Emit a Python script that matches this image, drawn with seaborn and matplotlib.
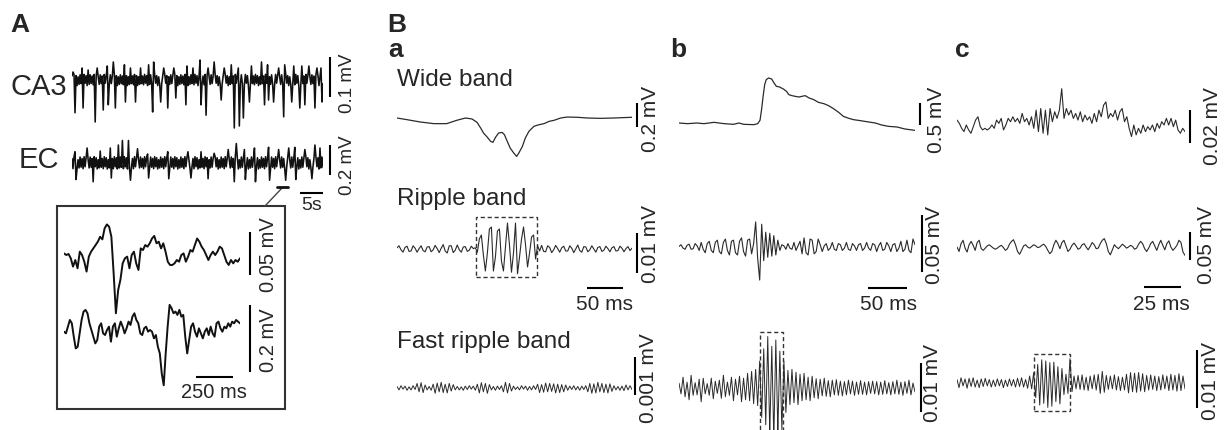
import numpy as np
import pandas as pd
import seaborn as sns
import matplotlib.pyplot as plt
from matplotlib.patches import Rectangle
from matplotlib.lines import Line2D


# ---------- values ----------
# A: CA3 / EC field potentials, uV, ~55 s
ca3_uv = [10, 20, 14, -82, 11, -14, 8, -11, 13, -9,
          30, -70, 14, -8, 11, -14, 25, -11, 13, -9,
          10, -12, 14, -105, 11, 30, 8, -11, 13, -9,
          10, -75, 14, -8, 11, 35, -62, -11, 13, -9,
          10, 45, 14, -70, 11, -14, 8, -11, 13, -9,
          10, -12, 38, -55, 11, -14, 8, -11, 30, -9,
          10, -12, 14, -55, 11, -14, 8, -11, 30, -9,
          10, -12, 14, -8, 11, -14, 38, -11, 13, -9,
          -80, 45, 14, -8, 11, -14, 8, -11, -55, -9,
          10, 30, 14, -8, 11, -70, 8, -11, 13, -9,
          10, 30, 14, -45, 11, -14, 8, -11, 13, -9,
          10, -12, 14, -62, 35, -14, 8, -11, 13, -9,
          30, -12, 14, -8, 11, -14, 8, 50, -62, -9,
          10, -12, 14, -88, 11, 30, 8, -11, 13, -9,
          10, 45, 14, -8, 11, -14, 8, -11, -50, -9,
          10, 30, 14, -8, 11, -14, 8, -11, 38, -9,
          10, -120, 14, -8, 11, 30, -115, -11, 13, -9,
          -95, -12, 14, -8, 11, -14, -55, -11, 35, -9,
          10, -12, 14, -8, 11, -14, 8, -11, 45, -9,
          10, -62, 14, -8, 38, -50, 8, -11, 13, -9,
          -55, -12, 14, -8, 11, 30, 8, -11, 13, -9,
          -92, 38, 14, -8, 11, -14, 8, -11, -55, -9,
          35, -12, 14, -8, 11, -14, -70, -11, 35, -9,
          10, -62, 14, -8, 11, 35, 8, -11, 13, -9,
          10, -70, 14, 30, 11, -14, 8, 30, -55, -9]
ec_uv = [30, -38, 42, 75, -110, -40, 22, -33, 40, -28,
         30, -38, 42, -25, 35, 100, 22, -33, 40, -28,
         30, -125, 42, -25, 35, -40, 22, -33, 80, -28,
         30, -38, 42, -25, 35, -40, 22, -33, 100, -100,
         30, -38, 42, -25, 35, -40, 120, -33, 40, -28,
         150, -38, 42, -25, 35, -40, 150, -33, -115, -28,
         30, -38, 42, -25, 35, 95, 22, -33, 40, -28,
         30, -38, 42, -25, 35, 60, -100, -33, 40, -28,
         30, -38, 42, -25, 35, -40, 22, -33, 40, -28,
         30, -38, 42, -25, 35, 75, -105, -33, 40, -28,
         30, -38, 42, -25, 35, -40, 22, -33, 40, -28,
         30, -38, 42, -25, 35, 75, 22, -33, -100, -28,
         30, -38, 42, -25, 35, -40, 22, -33, 75, -28,
         30, -38, 42, -25, 35, -105, 22, -33, 40, -28,
         30, 65, 42, -25, 35, -40, 22, -33, 40, -28,
         30, -38, 42, -25, 35, 90, 22, -33, 40, -28,
         30, -125, 42, 130, 35, -40, 22, -33, 40, -28,
         30, 90, -110, -25, 35, -40, 22, -33, 40, -28,
         30, 100, -125, -25, 35, -40, 22, -33, 40, -28,
         30, -38, 42, -25, 35, 105, -115, -33, 40, -28,
         30, -38, 42, -25, 35, 90, 22, -33, 40, -28,
         30, -38, -115, -25, 35, 100, 22, -33, 40, -28,
         30, 105, -110, -25, 35, -40, 22, -33, 40, -28,
         30, 90, 42, -25, 35, -40, 22, -33, -105, -28,
         30, 120, 42, -25, 35, -40, 100, -33, 40, -28]
long_s = 54.6

# A inset, uV, ~1.19 s
inset_top_uv = [7.7, 5.8, 7.0, 2.0, -7.7, 0.0, -9.7, 9.7, 5.8, -2.0,
                -13.5, 3.9, 9.7, 13.5, 17.4, 21.3, 27.0, 24.0, 36.8, 41.4,
                38.7, 27.0, -15.5, -62.0, -35.0, -23.0, -3.9, 2.0, 3.9, -9.7,
                5.8, 9.7, -3.9, -11.6, 13.5, 11.6, 17.4, 15.5, 19.4, 25.0,
                28.0, 19.4, 21.3, 13.5, 19.4, 9.7, -2.0, -5.8, -5.8, -3.9,
                0.0, -2.0, 5.8, 7.7, -2.0, 3.9, 11.6, 9.7, 17.4, 25.0,
                21.3, 15.5, 11.6, 5.8, 0.0, 5.8, 9.7, 5.8, 9.7, 15.5,
                13.5, 5.8, -2.0, -5.8, 0.0, -3.9, 0.0, -2.0, 2.0]
inset_bot_uv = [-5, -10, 10, 30, 20, -20, -55, -50, -10, 30,
                55, 60, 50, 20, 0, -20, -40, -30, 10, 20,
                -10, -15, 0, 10, -35, 10, 20, -20, 5, 25,
                10, -10, 5, 25, 15, 40, 50, 30, 20, -10,
                -15, 5, 10, -5, 0, -5, -25, -15, -50, -70,
                -130, -165, -70, 10, 75, 65, 50, 55, 45, 60,
                40, 45, -20, -70, -30, 10, 20, -5, -20, 5,
                -10, -25, -5, 5, -15, 10, -10, -20, 20, 25,
                5, -5, 10, 5, 20, 10, 25, 20, 30, 25, 20]
inset_ms = 1190

# B: duration of each column (ms)
dur_a, dur_b, dur_c = 326, 303, 154

# wide band
wide_a_ms = [0, 14, 32, 51, 69, 83, 95, 104, 111, 116, 120, 125, 130, 133, 137, 141,
             146, 149, 153, 157, 162, 166, 169, 174, 178, 183, 190, 197, 204, 211, 218,
             227, 236, 250, 264, 282, 301, 326]
wide_a_uv = [0, -14, -33, -47, -47, -19, 0, -8, -36, -83, -125, -158, -195, -203, -158, -125,
             -120, -139, -195, -250, -292, -320, -292, -236, -167, -111, -69, -56, -47, -28, -19,
             0, 8, 6, 0, -3, 0, 6]
wide_b_ms = [0, 11, 23, 32, 45, 58, 70, 77, 83, 96, 101, 104, 106, 108, 110, 112, 115, 119,
             122, 125, 129, 134, 138, 141, 145, 149, 154, 158, 162, 167, 173, 179, 186, 192,
             199, 205, 211, 218, 224, 233, 241, 252, 260, 269, 280, 290, 303]
wide_b_uv = [0, -15, 0, -15, 15, -15, -30, 0, -30, -38, -15, 61, 303, 606, 871, 984, 1022, 999,
             908, 833, 818, 772, 719, 643, 621, 606, 590, 606, 621, 568, 530, 469, 439, 394,
             318, 242, 151, 106, 76, 53, 30, 0, -45, -76, -91, -136, -167]
wide_c_uv = [3, 1, -2, -4, 0, -3, -5, -1, 3, 5, -1, -3, -2, -3, -2, 0, -2, 3, 1, 4,
             -3, 0, 4, 2, 5, 2, 4, 1, 7, 2, 4, 0, 5, -2, 9, -4, 10, -5, 9, -6,
             10, 2, 8, 4, 9, 22, 4, 10, 6, 9, 4, 7, 3, 8, 2, 6, 3, 5, 1, 7,
             2, 9, 5, 12, 14, 4, 7, 5, 9, 3, 8, 10, 2, 5, -2, -7, 0, -6, -2, -5,
             0, -4, -1, -3, 0, -4, 1, -2, 2, 0, 4, 0, 4, -1, 3, -3, -5, -2, -4]

# ripple band
ripple_a_uv = [0.3, 0.8, -0.2, -0.8, 0.4, 0.7, -0.6, -0.5, 0.8, 0.2,
               -0.8, 0.1, 0.8, -0.4, -0.7, 0.5, 0.6, -0.7, -0.2, 0.9,
               0.1, -0.9, 0.2, 1.1, -0.5, -1.0, 0.8, 0.8, -0.9, -0.3,
               1.0, -0.2, -0.8, 0.5, 0.6, -0.6, -0.3, 0.7, 0.1,
               0.3, -0.8, 2.5, 3.5, -1.5, -5.5, -1.0, 5.0, 5.5, -5.5,
               -2.0, 4.5, 5.0, -3.0, -5.5, 0.5, 6.5, 1.0, -5.8, -1.0,
               6.5, -6.2, -2.0, 2.5, 5.5, 1.0, -4.5, -1.0, 3.0, 3.5,
               -2.5, 0.8, -0.5,
               0.9, -0.6, -0.7, 0.8, 0.4, -0.9, -0.2, 0.9, 0.1, -0.8,
               0.3, 0.7, -0.5, -0.5, 0.8, 0.2, -0.9, 0.0, 1.0, -0.4,
               -0.8, 0.6, 0.5, -0.7, -0.2, 0.8, 0.0, -0.8, 0.4, 0.6,
               -0.6, -0.3, 0.7, 0.1, -0.7, 0.3, 0.6, -0.5, -0.4, 0.7,
               0.2, -0.7, 0.1, 0.6, -0.4, 0.2]
ripple_b_uv = [0.5, 2, -1, -2, 1.5, 2.5, -2, -1.5, 3, 1,
               -3, 4, -2, -5, 3, 5, -3, -5, 4, 6,
               -4, -6, 4, 7, -3, -7, 5, 6, -5, -7,
               5, 8, -4, -8, 6, 7, -6, 3, 22, -10,
               -29, 20, -12, 13, -9, 12, -8, 10, -7, 6,
               -3, 2, 1, -2, 3, -1, -2, 4, -3, 1,
               5, -6, 8, -5, -7, 7, 6, -6, -4, 7,
               2, -4, 1, 3, -3, -1, 4, -2, -3, 3,
               2, -3, -1, 4, -2, -3, 3, 1, -3, 2,
               3, -3, -1, 4, -1, -3, 3, 2, -4, 1,
               4, -3, -2, 4, 1, -4, 2, 3, -4, -1,
               5, -4, -2, 6, -3, -5, 7, 2]
ripple_c_uv = [0, -8, 6, 12, -2, -9, 4, 10, 3, -6,
               8, 12, -3, -6, -2, 2, 4, 1, -2, -4,
               -2, 1, 3, -1, -6, -3, 5, 10, 13, 4,
               -8, -13, -6, 2, 4, 0, -2, 1, 4, 2,
               -1, 0, 3, 5, 1, -6, -12, -8, 4, 12,
               6, -3, 8, 12, 2, -8, -4, 3, 7, 2,
               -4, -2, 4, 6, 0, -5, 1, 8, 4, -3,
               -2, 6, 12, 15, 6, -8, -14, -5, 4, 0,
               -3, 1, 5, 2, -2, 0, 3, 1, -4, -2,
               5, 10, 6, -3, -8, -2, 6, 10, 2, -6,
               4, 12, 3, -5, 6, 11, 0, -6, -2, 3,
               12, 8, -9, -15]

# fast ripple band
fast_a_uv = [0.04, -0.05, 0.06, -0.03, 0.05, -0.06, 0.03, -0.05, 0.06, -0.04,
             0.12, -0.1, 0.14, -0.12, 0.08, -0.05, 0.04, -0.06, 0.1, -0.14,
             0.13, -0.1, 0.15, -0.12, 0.1, -0.13, 0.12, -0.08, 0.09, -0.05,
             0.04, -0.05, 0.03, -0.06, 0.05, -0.04, 0.06, -0.03, 0.05, -0.06,
             0.1, -0.13, 0.14, -0.1, 0.12, -0.14, 0.09, -0.05, 0.04, -0.06,
             0.05, -0.04, 0.06, -0.1, 0.15, -0.13, 0.12, -0.08, 0.05, -0.04,
             0.03, -0.05, 0.06, -0.03, 0.05, -0.06, 0.04, -0.05, 0.06, -0.04,
             0.1, -0.12, 0.09, -0.11, 0.13, -0.1, 0.12, -0.09, 0.11, -0.13,
             0.1, -0.12, 0.09, -0.1, 0.08, -0.06, 0.05, -0.04, 0.06, -0.05,
             0.04, -0.06, 0.05, -0.04, 0.06, -0.1, 0.12, -0.14, 0.11, -0.13,
             0.15, -0.1, 0.12, -0.12, 0.1, -0.13, 0.11, -0.09, 0.06, -0.05,
             0.04, -0.06, 0.05, -0.07, 0.08, -0.05, 0.06, -0.04]
fast_b_uv = [1.0, -1.2, 2.2, -1.8, 1.2, -2.4, 2.6, -1.5, 1.1, -1.4,
             1.8, -2.8, 2.0, -1.2, 0.9, -1.5, 2.0, -2.2, 1.4, -1.1,
             1.6, -2.1, 2.6, -1.8, 1.2, -1.5, 2.2, -2.6, 1.8, -1.4,
             2.4, -2.8, 2.0, -2.4, 3.0, -2.6, 3.4, -3.2, 3.8, -3.6,
             5.5, -6.0, 8.0, -7.5, 10.5, -9.5, 8.5, -10.5, 9.8, -9.0,
             7.5, -8.5, 5.5, -5.0, 3.6, -3.4, 3.8, -3.0, 3.2, -3.4,
             2.8, -2.6, 3.0, -2.4, 2.2, -2.6, 2.4, -2.0, 1.9, -2.2,
             1.8, -1.6, 2.0, -1.7, 1.5, -1.8, 1.6, -1.4, 1.7, -1.5,
             1.4, -1.6, 1.3, -1.4, 1.6, -1.2, 1.4, -1.5, 1.2, -1.3,
             1.5, -1.3, 1.2, -1.4, 1.3, -1.1, 1.4, -1.2, 1.3, -1.4,
             1.2, -1.3, 1.5, -1.2, 1.1, -1.4, 1.3, -1.2, 1.6, -1.3,
             1.2, -1.5, 1.3, -1.1, 1.6, -1.4, 1.0, -0.8]
fast_c_uv = [0.6, -0.8, 0.9, -0.5, 0.7, -0.9, 0.8, -0.6, 0.9, -0.7,
             0.5, -0.8, 0.7, -0.6, 0.8, -0.5, 0.6, -0.7, 0.5, -0.6,
             0.7, -0.5, 0.6, -0.8, 0.5, -0.6, 0.7, -0.5, 0.6, -0.7,
             0.8, -0.6, 0.9, -0.7, 0.6, -0.9, 1.2, -1.0,
             1.8, -2.5, 3.2, -3.8, 4.0, -3.5, 3.8, -4.2, 3.5, -4.0,
             3.6, -3.2, 2.8, -3.6, 2.5, -2.0, 1.5, -1.8, 4.2,
             -1.5, 1.2, -1.0,
             1.3, -1.1, 1.4, -1.2, 1.0, -1.3, 1.2, -1.0, 1.4, -1.2,
             1.5, -1.8, 2.0, -1.6, 1.3, -1.1, 1.2, -1.0, 1.4, -1.2,
             1.1, -1.3, 1.0, -1.2, 1.5, -1.7, 1.8, -1.5, 1.7, -1.6,
             1.8, -1.4, 1.6, -1.5, 1.3, -1.2, 1.4, -1.1, 1.2, -1.3,
             1.1, -1.2, 1.4, -1.0, 1.2, -1.3, 1.5, -1.2, 1.3, -1.4,
             1.6, -1.3, 1.2, -1.0]

# dashed boxes around events (ms, uV)
box_ripple_a = (110, 194, -7.0, 8.0)
box_fast_b = (104, 133, -14.0, 11.4)
box_fast_c = (52, 76, -4.8, 5.0)


# ---------- drawing ----------
sns.set_style('white')
plt.rcParams['font.family'] = ['Liberation Sans', 'DejaVu Sans']

W, H = 1226, 430
fig = plt.figure(figsize=(W / 100, H / 100), dpi=100)


def samples(v, dur):
    return np.linspace(0, dur, len(v))


def trace(x0, x1, ybase, upp, t, v, lw=0.9, color='#2a2a2a', half=80):
    ax = fig.add_axes([x0 / W, (H - ybase - half) / H, (x1 - x0) / W, 2 * half / H])
    sns.lineplot(x=t, y=v, ax=ax, color=color, lw=lw, estimator=None, sort=False)
    ax.set_xlim(t[0], t[-1])
    ax.set_ylim(-half * upp, half * upp)
    ax.axis('off')
    return ax


def vbar(ax, xpx, ytop, length):
    x, y = ax.transData.inverted().transform((xpx, H - ytop))
    ax.plot([x, x], [y, y - length], color='k', lw=1.5, clip_on=False, solid_capstyle='butt')


def hbar(ax, xpx, ypx, length):
    x, y = ax.transData.inverted().transform((xpx, H - ypx))
    ax.plot([x, x + length], [y, y], color='k', lw=1.5, clip_on=False, solid_capstyle='butt')


def txt(x, y, s, fs, rot=0, ha='center', va='center', **kw):
    fig.text(x / W, 1 - y / H, s, fontsize=fs, rotation=rot, ha=ha, va=va, **kw)


def dbox(ax, b):
    ax.add_patch(Rectangle((b[0], b[2]), b[1] - b[0], b[3] - b[2], fill=False,
                           ec='#333333', lw=1.0, ls=(0, (3, 2)), clip_on=False))


# ---- panel A
ax = trace(72, 323, 80, 2.5, samples(ca3_uv, long_s), ca3_uv, lw=1.15, color='#111111')
vbar(ax, 330, 57, 100)
txt(347, 83, '0.1 mV', 13.5, 90)
ax = trace(72, 323, 163, 6.67, samples(ec_uv, long_s), ec_uv, lw=1.15, color='#111111')
vbar(ax, 330, 145, 200)
hbar(ax, 300, 193, 5)
txt(347, 165, '0.2 mV', 13.5, 90)
txt(312, 206, '5s', 14)
txt(11, 95, 'CA3', 21, ha='left', va='baseline')
txt(19, 168, 'EC', 21, ha='left', va='baseline')

fig.add_artist(Rectangle((57 / W, 1 - 409 / H), 228 / W, 203 / H, transform=fig.transFigure,
                         fill=False, ec='#333333', lw=1.5))
fig.add_artist(Line2D([265 / W, 282 / W], [1 - 206 / H, 1 - 188 / H], transform=fig.transFigure,
                      color='#444444', lw=1.0))
fig.add_artist(Line2D([277 / W, 288 / W], [1 - 187 / H, 1 - 187 / H], transform=fig.transFigure,
                      color='#111111', lw=2.0))

ax = trace(64, 240, 260, 1.163, samples(inset_top_uv, inset_ms), inset_top_uv, lw=1.4, color='#111111')
vbar(ax, 250, 232, 50)
txt(268, 255, '0.05 mV', 14.5, 90)
ax = trace(64, 240, 330, 2.985, samples(inset_bot_uv, inset_ms), inset_bot_uv, lw=1.4, color='#111111')
vbar(ax, 250, 305, 200)
hbar(ax, 196, 377, 250)
txt(268, 340, '0.2 mV', 14.5, 90)
txt(214, 392, '250 ms', 14.5)

# ---- panel B
txt(10, 32, 'A', 19, ha='left', va='baseline', weight='bold')
txt(387, 32, 'B', 19, ha='left', va='baseline', weight='bold')
txt(388, 57, 'a', 19, ha='left', va='baseline', weight='bold')
txt(670, 57, 'b', 19, ha='left', va='baseline', weight='bold')
txt(955, 57, 'c', 19, ha='left', va='baseline', weight='bold')
txt(397, 86, 'Wide band', 17.5, ha='left', va='baseline')
txt(397, 205, 'Ripple band', 17.5, ha='left', va='baseline')
txt(397, 348, 'Fast ripple band', 17.5, ha='left', va='baseline')

# wide band
ax = trace(397, 632, 118, 8.33, wide_a_ms, wide_a_uv, lw=0.9)
vbar(ax, 637, 103, 200)
txt(651, 119, '0.2 mV', 15, 90)
ax = trace(679, 915, 123, 22.7, wide_b_ms, wide_b_uv, lw=0.9)
vbar(ax, 920, 103, 500)
txt(937, 120, '0.5 mV', 15, 90)
ax = trace(957, 1185, 125, 0.606, samples(wide_c_uv, dur_c), wide_c_uv, lw=0.8)
vbar(ax, 1190, 110, 20)
txt(1212, 126, '0.02 mV', 15, 90)

# ripple band
ax = trace(397, 632, 249, 0.25, samples(ripple_a_uv, dur_a), ripple_a_uv, lw=0.8)
dbox(ax, box_ripple_a)
vbar(ax, 637, 233, 10)
hbar(ax, 587, 288, 50)
txt(651, 244, '0.01 mV', 15, 90)
txt(604, 304, '50 ms', 15)
ax = trace(679, 915, 247, 0.877, samples(ripple_b_uv, dur_b), ripple_b_uv, lw=0.8)
vbar(ax, 922, 215, 50)
hbar(ax, 868, 288, 50)
txt(935, 245, '0.05 mV', 15, 90)
txt(888, 305, '50 ms', 15)
ax = trace(957, 1185, 247, 1.786, samples(ripple_c_uv, dur_c), ripple_c_uv, lw=0.8)
vbar(ax, 1190, 232, 50)
hbar(ax, 1144, 287, 25)
txt(1207, 245, '0.05 mV', 15, 90)
txt(1161, 305, '25 ms', 15)

# fast ripple band
ax = trace(397, 632, 388, 0.0263, samples(fast_a_uv, dur_a), fast_a_uv, lw=0.7)
vbar(ax, 635, 357, 1)
txt(648, 378, '0.001 mV', 15, 90)
ax = trace(679, 915, 388, 0.204, samples(fast_b_uv, dur_b), fast_b_uv, lw=0.7)
dbox(ax, box_fast_b)
vbar(ax, 921, 363, 10)
txt(933, 383, '0.01 mV', 15, 90)
ax = trace(957, 1185, 383, 0.172, samples(fast_c_uv, dur_c), fast_c_uv, lw=0.7)
dbox(ax, box_fast_c)
vbar(ax, 1197, 350, 10)
txt(1210, 381, '0.01 mV', 15, 90)

fig.savefig('out.png', dpi=100, facecolor='white')
